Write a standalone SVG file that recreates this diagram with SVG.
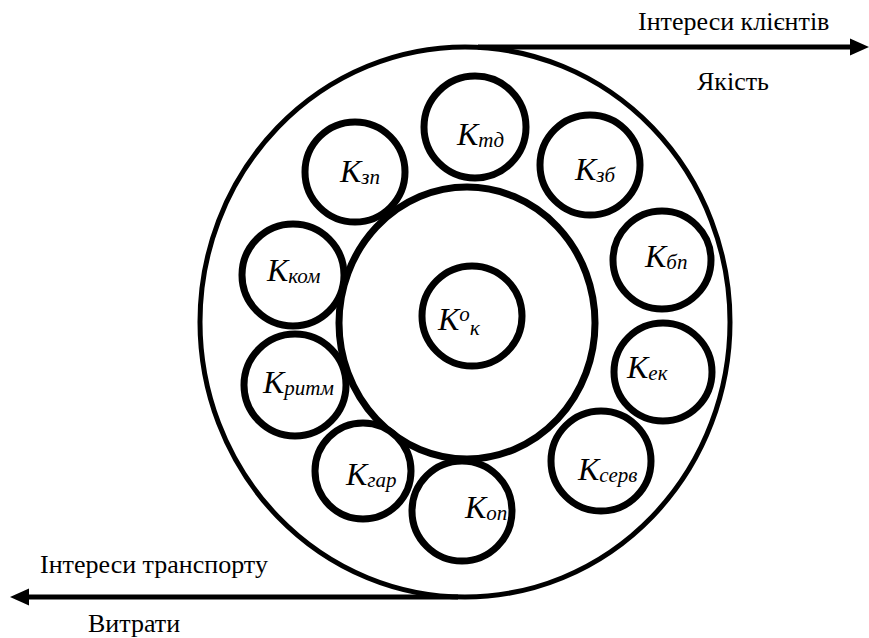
<svg xmlns="http://www.w3.org/2000/svg" width="869" height="638" viewBox="0 0 869 638">
<style>
.ring{fill:none;stroke:#000}
.node{fill:#fff;stroke:#000;stroke-width:7}
.lbl{font-style:italic;font-size:32px;fill:#000}
.sub{font-size:21px}
.cap{font-size:26px;fill:#000}
.line{stroke:#000;stroke-width:5;fill:none}
</style>
<rect width="869" height="638" fill="#fff"/>
<g id="outer"><ellipse class="ring" cx="465" cy="322" rx="265" ry="275" stroke-width="5"/></g>
<g id="inner"><ellipse class="ring" cx="467" cy="323" rx="128" ry="136" stroke-width="7"/></g>
<g id="connectors">
<line class="line" x1="478" y1="47" x2="852" y2="47"/>
<polygon points="869,47 850,38.5 850,55.5" fill="#000"/>
<line class="line" x1="27" y1="597" x2="458" y2="597"/>
<polygon points="10,597 29,588.5 29,605.5" fill="#000"/>
</g>
<g font-family="'Liberation Serif', 'Times New Roman', Tinos, 'Noto Serif', 'DejaVu Serif', serif">
<g id="n-td"><circle class="node" cx="475" cy="127" r="51"/><text class="lbl" x="457" y="145">K<tspan class="sub" dy="2">тд</tspan></text></g>
<g id="n-zb"><circle class="node" cx="590" cy="165" r="50"/><text class="lbl" x="575" y="180">K<tspan class="sub" dy="2">зб</tspan></text></g>
<g id="n-zp"><circle class="node" cx="355" cy="172" r="50"/><text class="lbl" x="340" y="182">K<tspan class="sub" dy="2">зп</tspan></text></g>
<g id="n-kom"><circle class="node" cx="293" cy="275" r="51"/><text class="lbl" x="267" y="281">K<tspan class="sub" dy="2">ком</tspan></text></g>
<g id="n-ritm"><circle class="node" cx="295" cy="385" r="51"/><text class="lbl" x="263" y="393">K<tspan class="sub" dy="2">ритм</tspan></text></g>
<g id="n-gar"><circle class="node" cx="363" cy="471" r="48"/><text class="lbl" x="346" y="485">K<tspan class="sub" dy="2">гар</tspan></text></g>
<g id="n-op"><circle class="node" cx="462" cy="511" r="50"/><text class="lbl" x="465" y="518">K<tspan class="sub" dy="2">оп</tspan></text></g>
<g id="n-serv"><circle class="node" cx="601" cy="461" r="50"/><text class="lbl" x="578" y="480">K<tspan class="sub" dy="2">серв</tspan></text></g>
<g id="n-ek"><circle class="node" cx="663" cy="372" r="49"/><text class="lbl" x="627" y="378">K<tspan class="sub" dy="2">ек</tspan></text></g>
<g id="n-bp"><circle class="node" cx="662" cy="260" r="49"/><text class="lbl" x="645" y="267">K<tspan class="sub" dy="2">бп</tspan></text></g>
<g id="n-center"><circle class="node" cx="472" cy="316" r="50"/><text class="lbl" x="438" y="330">K<tspan class="sub" dy="-9">o</tspan><tspan class="sub" dy="14">κ</tspan></text></g>
<g id="captions">
<text class="cap" x="638" y="30">Інтереси клієнтів</text>
<text class="cap" x="697" y="90">Якість</text>
<text class="cap" x="40" y="573">Інтереси транспорту</text>
<text class="cap" x="88" y="632">Витрати</text>
</g>
</g>
</svg>
